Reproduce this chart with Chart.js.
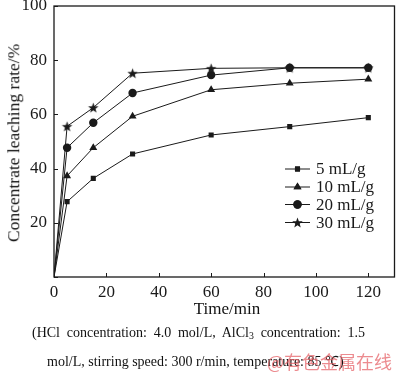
<!DOCTYPE html>
<html><head><meta charset="utf-8">
<script src="https://cdn.jsdelivr.net/npm/chart.js@4"></script>
<style>
body{margin:0;background:#fff;}
#wrap{position:relative;width:400px;height:378px;font-family:"Liberation Serif","Times New Roman",serif;color:#111;overflow:hidden;}
canvas{position:absolute;left:0;top:0;}
.t{position:absolute;white-space:nowrap;line-height:1;}
sub{font-size:70%;vertical-align:-0.25em;line-height:0;}
</style></head><body>
<div id="wrap">
<canvas id="c" width="400" height="378"></canvas>
<div class="t" style="left:14px;top:143px;font-size:17.5px;transform:translate(-50%,-50%) rotate(-90deg);">Concentrate leaching rate/%</div>
<div class="t" style="left:227px;top:308px;font-size:17px;transform:translate(-50%,-50%);">Time/min</div>
<div class="t" style="left:32px;top:326px;font-size:14px;word-spacing:3.3px;">(HCl concentration: 4.0 mol/L, AlCl<sub>3</sub> concentration: 1.5</div>
<div class="t" style="left:47px;top:355px;font-size:14px;">mol/L, stirring speed: 300 r/min, temperature: 85 ℃)</div>
<div class="t" style="left:267px;top:352px;font-size:18px;color:rgba(228,90,95,0.7);font-family:'Noto Sans CJK SC',sans-serif;">@有色金属在线</div>
</div>
<script>
const timeMin = [0, 5, 15, 30, 60, 90, 120];
const rate5  = [0, 27.8, 36.4, 45.4, 52.4, 55.5, 58.8];
const rate10 = [0, 37.3, 47.7, 59.3, 69.1, 71.5, 73.0];
const rate20 = [0, 47.7, 56.9, 67.9, 74.5, 77.2, 77.2];
const rate30 = [0, 55.6, 62.5, 75.2, 77.0, 77.2, 77.2];
const seriesLabels = ['5 mL/g', '10 mL/g', '20 mL/g', '30 mL/g'];
const xTicks = [0, 20, 40, 60, 80, 100, 120];
const yTicks = [0, 20, 40, 60, 80, 100];

const INK = '#1a1a1a';
const SERIF = '"Liberation Serif", "Times New Roman", serif';
function starCanvas(r) {
  const s = Math.ceil(r * 2 + 2);
  const cv = document.createElement('canvas');
  cv.width = s; cv.height = s;
  const g = cv.getContext('2d');
  g.fillStyle = INK;
  g.beginPath();
  for (let i = 0; i < 10; i++) {
    const rr = i % 2 === 0 ? r : r * 0.42;
    const a = -Math.PI / 2 + i * Math.PI / 5;
    const x = s / 2 + rr * Math.cos(a), y = s / 2 + rr * Math.sin(a) + 0.5;
    i === 0 ? g.moveTo(x, y) : g.lineTo(x, y);
  }
  g.closePath(); g.fill();
  return cv;
}
const star = starCanvas(5.5);
const styles = ['rect', 'triangle', 'circle', star];
const radii = [3.6, 4.6, 4.2, 5.5];
const allRates = [rate5, rate10, rate20, rate30];

const datasets = allRates.map((r, i) => ({
  label: seriesLabels[i],
  data: timeMin.map((t, j) => ({x: t, y: r[j]})),
  borderColor: INK, backgroundColor: INK, borderWidth: 1,
  pointStyle: styles[i], pointRadius: timeMin.map(t => t === 0 ? 0 : radii[i]), pointBorderWidth: 0,
  legendRadius: radii[i],
  pointBackgroundColor: INK, pointBorderColor: INK, tension: 0
}));

const framePlugin = {
  id: 'frame',
  beforeDatasetsDraw(chart) {
    const {ctx, chartArea: a, scales} = chart;
    ctx.save();
    ctx.strokeStyle = INK; ctx.lineWidth = 1.3;
    ctx.strokeRect(a.left, a.top, a.right - a.left, a.bottom - a.top);
    ctx.lineWidth = 1;
    ctx.beginPath();
    xTicks.forEach(v => { const p = Math.round(scales.x.getPixelForValue(v)) + 0.5; ctx.moveTo(p, a.bottom); ctx.lineTo(p, a.bottom - 4); });
    yTicks.forEach(v => { const p = Math.round(scales.y.getPixelForValue(v)) + 0.5; ctx.moveTo(a.left, p); ctx.lineTo(a.left + 4, p); });
    ctx.stroke();
    ctx.restore();
  },
  afterDraw(chart) {
    const {ctx} = chart;
    ctx.save();
    ctx.font = '17px ' + SERIF;
    ctx.fillStyle = INK; ctx.textBaseline = 'middle'; ctx.textAlign = 'left';
    const ys = [169, 187, 204.5, 222.5];
    chart.data.datasets.forEach((d, i) => {
      const y = ys[i];
      ctx.strokeStyle = INK; ctx.lineWidth = 1;
      ctx.beginPath(); ctx.moveTo(285, y); ctx.lineTo(310, y); ctx.stroke();
      ctx.fillStyle = INK;
      Chart.helpers.drawPoint(ctx, {pointStyle: d.pointStyle, radius: d.legendRadius, borderWidth: 0}, 297.5, y);
      ctx.fill();
      ctx.fillText(d.label, 316, y + 1);
    });
    ctx.restore();
  }
};

new Chart(document.getElementById('c'), {
  type: 'line',
  data: {datasets},
  plugins: [framePlugin],
  options: {
    responsive: false, animation: false, devicePixelRatio: 1,
    layout: {padding: {left: 0, top: 6, right: 2, bottom: 0}},
    plugins: {legend: {display: false}, tooltip: {enabled: false}},
    scales: {
      x: {
        type: 'linear', min: 0, max: 130,
        afterFit: s => { s.height = 101; s.paddingLeft = 0; s.paddingRight = 0; },
        afterBuildTicks: s => { s.ticks = xTicks.map(v => ({value: v})); },
        grid: {display: false, drawTicks: false},
        border: {display: false},
        ticks: {color: INK, padding: 5, maxRotation: 0, font: {family: SERIF, size: 17}}
      },
      y: {
        type: 'linear', min: 0, max: 100,
        afterFit: s => { s.width = 54; s.paddingTop = 0; s.paddingBottom = 0; },
        afterBuildTicks: s => { s.ticks = yTicks.map(v => ({value: v})); },
        grid: {display: false, drawTicks: false},
        border: {display: false},
        ticks: {color: INK, padding: 7, font: {family: SERIF, size: 17},
          callback: v => v === 0 ? '' : v}
      }
    }
  }
});
</script>
</body></html>
